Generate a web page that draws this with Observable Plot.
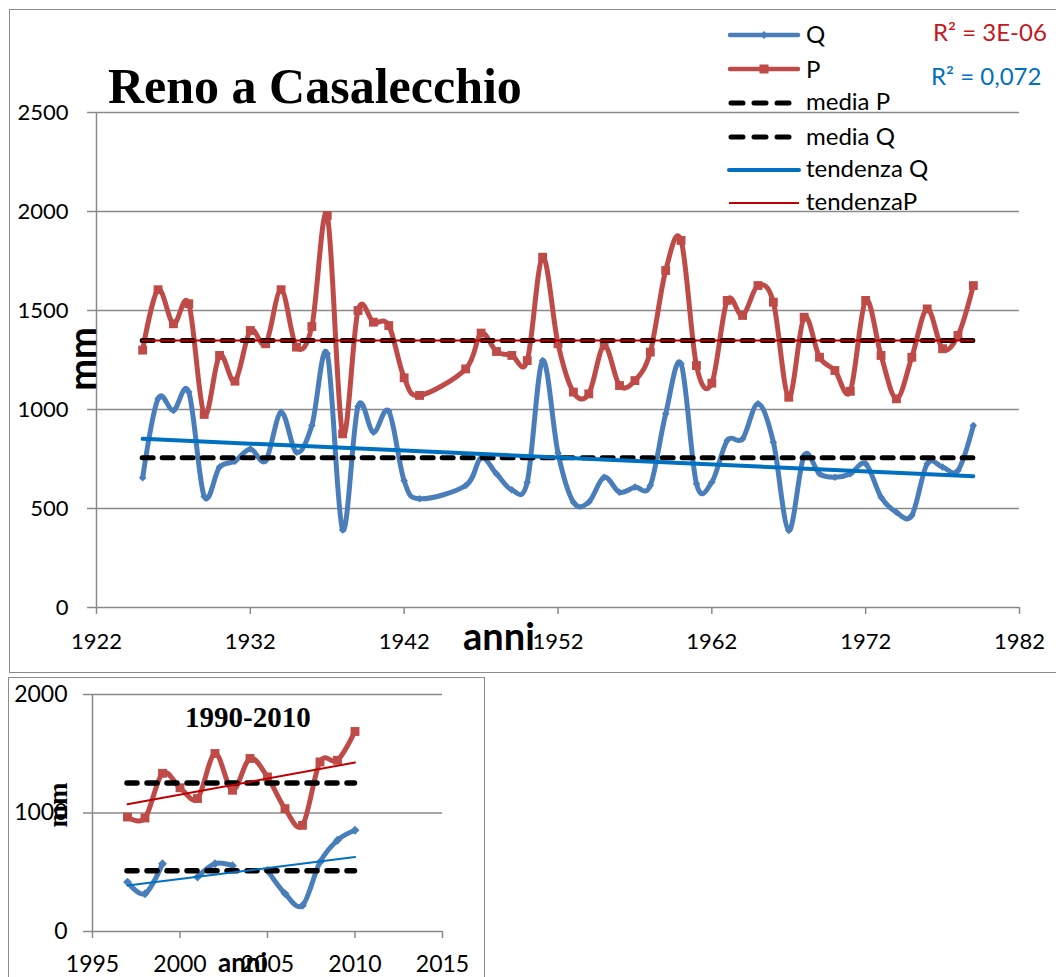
<!DOCTYPE html>
<html>
<head>
<meta charset="utf-8">
<script src="https://cdn.jsdelivr.net/npm/d3@7"></script>
<script src="https://cdn.jsdelivr.net/npm/@observablehq/plot@0.6"></script>
<style>
  html, body { margin: 0; padding: 0; background: white; }
  #page { position: relative; width: 1056px; height: 977px; overflow: hidden; background: white; font-family: Lato, sans-serif; }
  .abs { position: absolute; }
  .box { position: absolute; border: 1.5px solid #8a8a8a; box-sizing: border-box; pointer-events: none; }
</style>
</head>
<body>
<div id="page">
  <div id="main" class="abs" style="left:0;top:0"></div>
  <div id="small" class="abs" style="left:0;top:677px"></div>
  <div class="box" style="left:9px;top:9px;width:1100px;height:664px"></div>
  <div class="box" style="left:8px;top:677px;width:477px;height:400px"></div>
  <svg id="overlay" class="abs" style="left:0;top:0;pointer-events:none" width="1056" height="977">
    <text x="108" y="103" font-family="Liberation Serif" font-weight="bold" font-size="50">Reno a Casalecchio</text>
    <text transform="translate(96,359) rotate(-90)" text-anchor="middle" font-family="Lato" font-weight="bold" font-size="38">mm</text>
    <text x="463" y="650" font-family="Lato" font-weight="bold" font-size="38">anni</text>

    <g font-family="Lato" font-size="24" fill="black">
      <line x1="730" x2="798" y1="35" y2="35" stroke="#4A7EBB" stroke-width="4.5" stroke-linecap="round"/>
      <path d="M764,31 L768,35 L764,39 L760,35 Z" fill="#4A7EBB"/>
      <text x="806" y="43">Q</text>
      <line x1="730" x2="798" y1="69" y2="69" stroke="#BE4B48" stroke-width="4.5" stroke-linecap="round"/>
      <rect x="759.5" y="64.5" width="9" height="9" fill="#BE4B48"/>
      <text x="806" y="78">P</text>
      <line x1="731" x2="793" y1="103" y2="103" stroke="black" stroke-width="5" stroke-dasharray="12 11" stroke-linecap="round"/>
      <text x="806" y="110">media P</text>
      <line x1="731" x2="793" y1="137" y2="137" stroke="black" stroke-width="5" stroke-dasharray="12 11" stroke-linecap="round"/>
      <text x="806" y="145">media Q</text>
      <line x1="729" x2="799" y1="170" y2="170" stroke="#0070C0" stroke-width="4" stroke-linecap="round"/>
      <text x="806" y="177">tendenza Q</text>
      <line x1="729" x2="799" y1="203" y2="203" stroke="#C00000" stroke-width="2"/>
      <text x="806" y="210">tendenzaP</text>
    </g>
    <text x="933" y="41" font-family="Lato" font-size="24" fill="#C8161D">R² = 3E-06</text>
    <text x="931" y="85" font-family="Lato" font-size="24" fill="#0070C0">R² = 0,072</text>

    <text x="185" y="727" font-family="Liberation Serif" font-weight="bold" font-size="29">1990-2010</text>
    <text transform="translate(67,805) rotate(-90)" text-anchor="middle" font-family="Liberation Serif" font-weight="bold" font-size="27">mm</text>
    <text x="218" y="972" font-family="Lato" font-weight="bold" font-size="26">anni</text>
  </svg>
</div>
<script>
// ---- Main chart data (Reno a Casalecchio) ----
const yearsMain = [1925,1926,1927,1928,1929,1930,1931,1932,1933,1934,1935,1936,1937,1938,1939,1940,1941,1942,1943,
  1946,1947,1948,1949,1950,1951,1952,1953,1954,1955,1956,1957,1958,1959,1960,1961,1962,1963,1964,1965,1966,1967,1968,
  1969,1970,1971,1972,1973,1974,1975,1976,1977,1978,1979];
const pMain = [1300,1605,1433,1534,975,1273,1143,1399,1332,1605,1315,1419,1980,877,1500,1441,1424,1160,1071,
  1205,1386,1293,1273,1247,1769,1332,1088,1079,1323,1121,1146,1290,1702,1854,1222,1133,1551,1475,1626,1542,1062,1466,
  1264,1197,1092,1551,1273,1054,1264,1508,1307,1374,1626];
const qMain = [655,1054,995,1088,561,709,739,801,742,986,784,919,1281,392,1015,885,991,640,549,
  616,756,675,594,633,1247,780,532,532,658,582,608,616,978,1231,625,633,843,852,1029,835,389,768,
  675,658,675,726,557,481,465,726,709,692,919];
const trendYearsMain = [1925, 1979];
const trendQMain = [852, 663];
const trendPMain = [1349, 1348];
const xTicksMain = [1922, 1932, 1942, 1952, 1962, 1972, 1982];
const yTicksMain = [0, 500, 1000, 1500, 2000, 2500];

// ---- Inset data (1990-2010) ----
const yearsSmall = [1997,1998,1999,2000,2001,2002,2003,2004,2005,2006,2007,2008,2009,2010];
const pSmall = [966,958,1335,1213,1122,1502,1192,1460,1304,1037,896,1431,1445,1688];
const qSmall = [417,319,572,null,459,572,555,null,516,320,220,585,770,854];
const trendYearsSmall = [1997, 2010];
const trendPSmall = [1074, 1426];
const trendQSmall = [389, 628];
const xTicksSmall = [1995, 2000, 2005, 2010, 2015];
const yTicksSmall = [0, 1000, 2000];

const BLUE = "#4A7EBB", RED = "#BE4B48", GRID = "#8a8a8a";
const plain = d => `${d}`;

const mainRows = yearsMain.map((year, i) => ({year, p: pMain[i], q: qMain[i]}));
const mainTrend = trendYearsMain.map((year, i) => ({year, q: trendQMain[i], p: trendPMain[i]}));
const meanPMain = d3.mean(pMain), meanQMain = d3.mean(qMain);

const main = Plot.plot({
  width: 1056, height: 673,
  marginLeft: 96, marginRight: 37, marginTop: 112, marginBottom: 66,
  x: {domain: [1922, 1982]},
  y: {domain: [0, 2500]},
  style: {fontFamily: "Lato", fontSize: "22px", background: "transparent", color: "black", overflow: "visible"},
  marks: [
    Plot.gridY(yTicksMain.slice(1), {stroke: GRID, strokeOpacity: 1, strokeWidth: 1.5}),
    Plot.axisY({ticks: yTicksMain, tickFormat: plain, tickSize: 9, tickPadding: 19, stroke: GRID, strokeOpacity: 1, strokeWidth: 1.5, fill: "black", fontSize: 22, label: null}),
    Plot.axisX({ticks: xTicksMain, tickFormat: plain, tickSize: 7, tickPadding: 19, stroke: GRID, strokeOpacity: 1, strokeWidth: 1.5, fill: "black", fontSize: 22, label: null}),
    Plot.ruleY([0], {stroke: GRID, strokeWidth: 1.5}),
    Plot.ruleX([1922], {stroke: GRID, strokeWidth: 1.5}),
    Plot.line(mainRows, {x: "year", y: "q", stroke: BLUE, strokeWidth: 5, curve: "cardinal"}),
    Plot.dot(mainRows, {x: "year", y: "q", symbol: "diamond2", r: 3.4, fill: BLUE}),
    Plot.line(mainRows, {x: "year", y: "p", stroke: RED, strokeWidth: 5, curve: "cardinal"}),
    Plot.dot(mainRows, {x: "year", y: "p", symbol: "square", r: 5, fill: RED}),
    Plot.ruleY([meanPMain], {x1: yearsMain[0], x2: yearsMain[yearsMain.length - 1], stroke: "black", strokeWidth: 5, strokeDasharray: "11,9", strokeLinecap: "round"}),
    Plot.ruleY([meanQMain], {x1: yearsMain[0], x2: yearsMain[yearsMain.length - 1], stroke: "black", strokeWidth: 5, strokeDasharray: "11,9", strokeLinecap: "round"}),
    Plot.line(mainTrend, {x: "year", y: "q", stroke: "#0070C0", strokeWidth: 4}),
    Plot.line(mainTrend, {x: "year", y: "p", stroke: "#C00000", strokeWidth: 2})
  ]
});
document.getElementById("main").appendChild(main);

const smallRows = yearsSmall.map((year, i) => ({year, p: pSmall[i], q: qSmall[i]}));
const smallTrend = trendYearsSmall.map((year, i) => ({year, p: trendPSmall[i], q: trendQSmall[i]}));
const meanPSmall = d3.mean(pSmall), meanQSmall = d3.mean(qSmall);

const small = Plot.plot({
  width: 490, height: 300,
  marginLeft: 92, marginRight: 48, marginTop: 17, marginBottom: 46,
  x: {domain: [1995, 2015]},
  y: {domain: [0, 2000]},
  style: {fontFamily: "Lato", fontSize: "23px", background: "transparent", color: "black", overflow: "visible"},
  marks: [
    Plot.gridY(yTicksSmall.slice(1), {stroke: GRID, strokeOpacity: 1, strokeWidth: 1.5}),
    Plot.axisY({ticks: yTicksSmall, tickFormat: plain, tickSize: 9, tickPadding: 16, stroke: GRID, strokeOpacity: 1, strokeWidth: 1.5, fill: "black", fontSize: 23, label: null}),
    Plot.axisX({ticks: xTicksSmall, tickFormat: plain, tickSize: 7, tickPadding: 17, stroke: GRID, strokeOpacity: 1, strokeWidth: 1.5, fill: "black", fontSize: 23, label: null}),
    Plot.ruleY([0], {stroke: GRID, strokeWidth: 1.5}),
    Plot.ruleX([1995], {stroke: GRID, strokeWidth: 1.5}),
    Plot.line(smallRows, {x: "year", y: "q", stroke: BLUE, strokeWidth: 5, curve: "cardinal"}),
    Plot.dot(smallRows.filter(d => d.q != null), {x: "year", y: "q", symbol: "diamond2", r: 4, fill: BLUE}),
    Plot.line(smallRows, {x: "year", y: "p", stroke: RED, strokeWidth: 5, curve: "cardinal"}),
    Plot.dot(smallRows, {x: "year", y: "p", symbol: "square", r: 5, fill: RED}),
    Plot.ruleY([meanPSmall], {x1: yearsSmall[0], x2: yearsSmall[yearsSmall.length - 1], stroke: "black", strokeWidth: 5.5, strokeDasharray: "10,10", strokeLinecap: "round"}),
    Plot.ruleY([meanQSmall], {x1: yearsSmall[0], x2: yearsSmall[yearsSmall.length - 1], stroke: "black", strokeWidth: 5.5, strokeDasharray: "10,10", strokeLinecap: "round"}),
    Plot.line(smallTrend, {x: "year", y: "p", stroke: "#C00000", strokeWidth: 2}),
    Plot.line(smallTrend, {x: "year", y: "q", stroke: "#0070C0", strokeWidth: 2})
  ]
});
document.getElementById("small").appendChild(small);
</script>
</body>
</html>
